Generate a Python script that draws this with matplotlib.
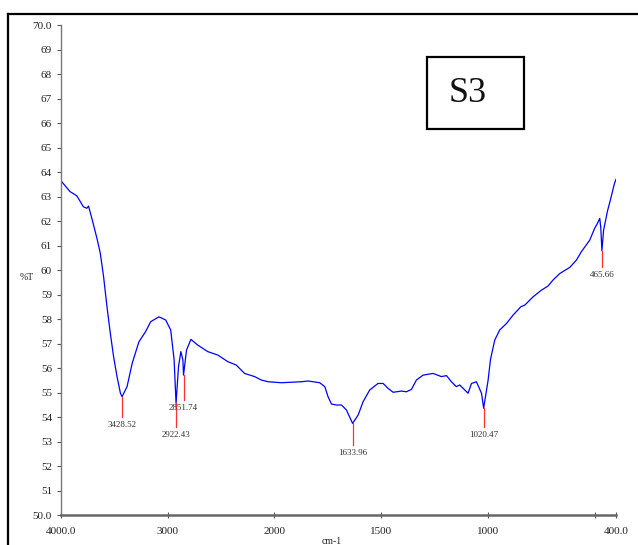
import matplotlib
matplotlib.use("Agg")
import matplotlib.pyplot as plt
from matplotlib.lines import Line2D
from matplotlib.patches import Rectangle
import numpy as np

# FTIR spectrum of sample S3
wavenumber = [4000, 3915, 3852, 3790, 3758, 3742, 3711, 3663, 3632, 3601,
              3569, 3538, 3507, 3475, 3443, 3428, 3381, 3333, 3270, 3208,
              3160, 3082, 3019, 2972, 2940, 2922, 2899, 2877, 2858, 2852,
              2824, 2783, 2720, 2625, 2531, 2437, 2358, 2280, 2186, 2123,
              2060, 1967, 1874, 1842, 1788, 1764, 1749, 1733, 1710, 1686,
              1663, 1634, 1608, 1585, 1554, 1515, 1491, 1468, 1444, 1405,
              1382, 1358, 1335, 1304, 1257, 1218, 1194, 1171, 1148, 1132,
              1108, 1093, 1077, 1054, 1030, 1020, 999, 988, 968, 945,
              913, 882, 846, 827, 788, 749, 718, 695, 663, 616,
              585, 562, 523, 500, 487, 476, 471, 466, 458, 440,
              425, 407, 400]
transmittance = [63.64, 63.20, 63.03, 62.58, 62.52, 62.61, 62.11, 61.29, 60.69, 59.73,
                 58.50, 57.42, 56.46, 55.65, 54.97, 54.83, 55.24, 56.19, 57.07, 57.48,
                 57.89, 58.09, 57.96, 57.55, 56.33, 54.56, 56.05, 56.67, 56.33, 55.71,
                 56.73, 57.17, 56.94, 56.67, 56.53, 56.26, 56.12, 55.78, 55.65, 55.51,
                 55.44, 55.40, 55.44, 55.47, 55.40, 55.24, 54.83, 54.53, 54.49, 54.49,
                 54.29, 53.74, 54.08, 54.62, 55.10, 55.37, 55.37, 55.17, 55.01, 55.06,
                 55.03, 55.13, 55.51, 55.71, 55.78, 55.65, 55.69, 55.44, 55.24, 55.31,
                 55.10, 54.97, 55.37, 55.44, 54.97, 54.36, 55.51, 56.35, 57.14, 57.55,
                 57.82, 58.16, 58.50, 58.57, 58.91, 59.18, 59.35, 59.59, 59.86, 60.11,
                 60.41, 60.75, 61.22, 61.70, 61.90, 62.11, 61.70, 60.79, 61.63, 62.40,
                 62.90, 63.54, 63.70]

# labelled peaks
peak_wn = [3428.52, 2922.43, 2851.74, 1633.96, 1020.47, 465.66]
peak_T = [54.83, 54.56, 55.71, 53.74, 54.36, 60.79]
label_T = [53.67, 53.27, 54.37, 52.53, 53.27, 59.80]

x_ticks = [4000, 3000, 2000, 1500, 1000, 500, 400]
x_ticklabels = ["4000.0", "3000", "2000", "1500", "1000", "", "400.0"]
y_ticks = list(range(50, 71))
y_ticklabels = ["50.0"] + [str(v) for v in range(51, 70)] + ["70.0"]


# instrument-style axis: scale doubles below 2000 cm-1
def fwd(w):
    w = np.asarray(w, dtype=float)
    return np.where(w >= 2000, w, 2 * w - 2000)


def inv(p):
    p = np.asarray(p, dtype=float)
    return np.where(p >= 2000, p, (p + 2000) / 2)


plt.rcParams['font.family'] = ['Liberation Serif', 'DejaVu Serif']

fig = plt.figure(figsize=(6.38, 5.45), dpi=100)
ax = fig.add_axes([0.0956, 0.055, 0.8699, 0.8991])
ax.set_xscale('function', functions=(fwd, inv))

ax.plot(wavenumber, transmittance, color='#0000ff', lw=0.9)

for w, t, lt, in zip(peak_wn, peak_T, label_T):
    ax.plot([w, w], [t, lt + 0.33], color='#ff3030', lw=0.9)
    ax.text(w, lt, f"{w:.2f}", ha='center', va='center', fontsize=6.5, color='#333333')

ax.set_xlim(4000, 400)
ax.set_ylim(50, 70)
ax.set_xticks(x_ticks)
ax.set_xticklabels(x_ticklabels)
ax.xaxis.set_minor_locator(matplotlib.ticker.NullLocator())
ax.set_yticks(y_ticks)
ax.set_yticklabels(y_ticklabels)
ax.tick_params(axis='both', labelsize=8, colors='#555555', labelcolor='#222222',
               length=3, width=0.8)
ax.tick_params(axis='x', direction='inout', length=5, pad=6)

for s in ['top', 'right']:
    ax.spines[s].set_visible(False)
ax.spines['left'].set_color('#777777')
ax.spines['left'].set_linewidth(1.0)
ax.spines['bottom'].set_color('#666666')
ax.spines['bottom'].set_linewidth(1.8)

fig.text(27 / 638, 1 - 277 / 545, "%T", fontsize=7, ha='center', va='center', color='#222222')
fig.text(332 / 638, 1 - 542 / 545, "cm-1", fontsize=7, ha='center', va='center', color='#222222')

# sample tag box
fig.add_artist(Rectangle((427 / 638, 1 - 129 / 545), 97 / 638, 72 / 545,
                         transform=fig.transFigure, fill=False, ec='black', lw=1.6))
fig.text(468 / 638, 1 - 93 / 545, "S3", fontsize=26, ha='center', va='center', color='#111111')

# outer page frame (left and top edges)
fig.add_artist(Line2D([8 / 638, 8 / 638], [0, 1 - 14 / 545], transform=fig.transFigure,
                      color='black', lw=1.6))
fig.add_artist(Line2D([8 / 638, 1], [1 - 14 / 545, 1 - 14 / 545], transform=fig.transFigure,
                      color='black', lw=1.6))

fig.savefig("out.png", dpi=100)
